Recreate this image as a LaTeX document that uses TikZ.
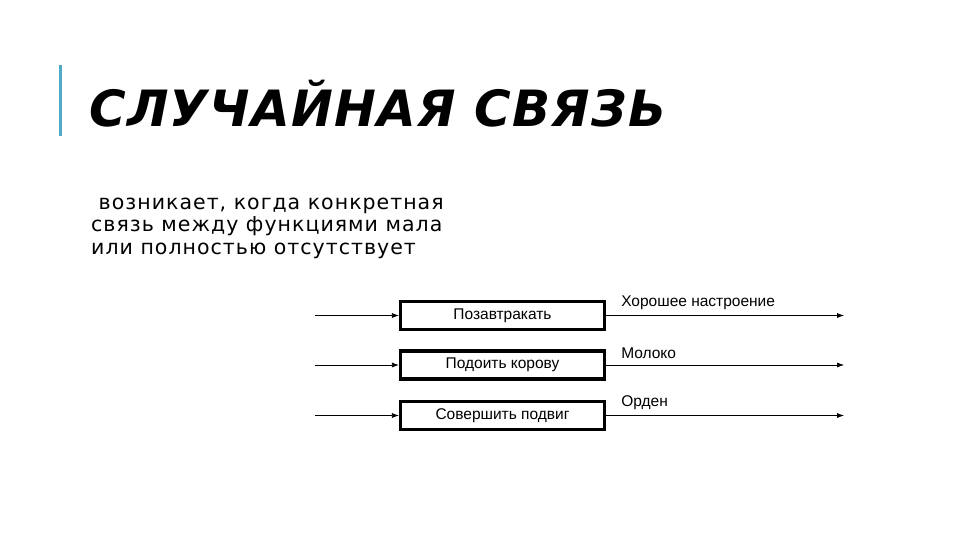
\documentclass[tikz,border=0pt]{standalone}
\usepackage{fontspec}
\setmainfont{DejaVu Sans}
\newfontfamily\titlefont[LetterSpace=2.5]{DejaVu Sans}
\newfontfamily\bodyfont[LetterSpace=5]{DejaVu Sans}
\newfontfamily\boxfont{Liberation Sans}
\usetikzlibrary{arrows.meta, positioning}

\begin{document}
\begin{tikzpicture}[x=1pt, y=1pt, func/.style={draw, line width=3.2pt, minimum width=204pt, minimum height=28pt, inner sep=0pt, font=\boxfont\fontsize{15.5}{18}\selectfont}, flow/.style={-{Latex[length=7pt,width=5pt]}, line width=0.7pt}, outlabel/.style={anchor=south west, inner sep=1pt, font=\boxfont\fontsize{15.5}{18}\selectfont}]
\useasboundingbox (0,0) rectangle (960,-540);
\definecolor{accent}{RGB}{79,170,200}
\fill[accent] (59,-65) rectangle (62,-136);
\node[anchor=base west, inner sep=0pt, font=\titlefont\bfseries\itshape\fontsize{50}{60}\selectfont] (title) at (89,-127) {СЛУЧАЙНАЯ СВЯЗЬ};
\node[anchor=base west, inner sep=0pt, align=left, font=\bodyfont\fontsize{20.5}{22.5}\selectfont] (text) at (91,-254) {\ возникает, когда конкретная\\связь между функциями мала\\или полностью отсутствует};
% functions
\node[func] (zavtrak) at (502.5,-315.5) {Позавтракать}; \node[func] (korova) at (502.5,-365) {Подоить корову}; \node[func] (podvig) at (502.5,-415.5) {Совершить подвиг};
\foreach \f/\lab in {zavtrak/Хорошее настроение, korova/Молоко, podvig/Орден} {
\coordinate (in-\f) at ([xshift=-84pt]\f.west); \coordinate (out-\f) at ([xshift=238pt]\f.east);
\draw[flow] (in-\f)--(\f.west); \draw[flow] (\f.east)--(out-\f);
\node[outlabel] at ([xshift=14pt, yshift=5pt]\f.east) {\lab};}
\end{tikzpicture}
\end{document}
